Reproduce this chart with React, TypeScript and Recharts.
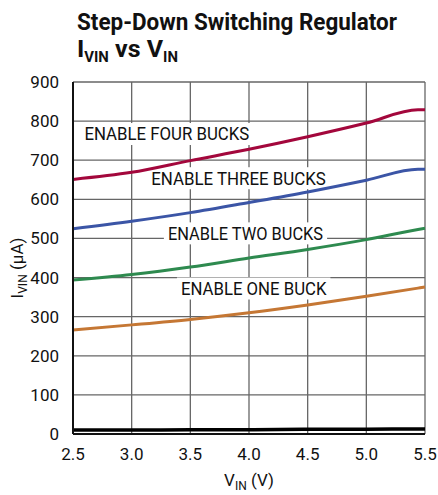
import React from "react";
import { LineChart, Line, XAxis, YAxis, CartesianGrid, ReferenceDot } from "recharts";

const vin = [2.5, 3.0, 3.5, 4.0, 4.5, 5.0, 5.44, 5.5];
const fourBucks = [651, 669, 699, 728, 760, 795, 829, 829];
const threeBucks = [525, 544, 566, 592, 619, 649, 677, 677];
const twoBucks = [394, 408, 427, 450, 472, 497, 523, 526];
const oneBuck = [266, 279, 293, 310, 330, 352, 373, 376];
const shutdown = [10, 10, 11, 11, 12, 12, 13, 13];

const xTicks = [2.5, 3.0, 3.5, 4.0, 4.5, 5.0, 5.5];
const yTicks = [0, 100, 200, 300, 400, 500, 600, 700, 800, 900];

const labelText = ["ENABLE FOUR BUCKS", "ENABLE THREE BUCKS", "ENABLE TWO BUCKS", "ENABLE ONE BUCK"];
const labelX = [3.3, 3.91, 3.97, 4.04];
const labelY = [767, 654, 513, 372];

const data = vin.map((v, i) => ({
  vin: v,
  four: fourBucks[i],
  three: threeBucks[i],
  two: twoBucks[i],
  one: oneBuck[i],
  off: shutdown[i],
}));

const FONT = "Roboto, 'Liberation Sans', sans-serif";

const makeLabel = (text: string) => (props: any) => {
  const { cx, cy } = props;
  const tw = text.length * 9.7;
  const w = tw + 8;
  return (
    <g>
      <rect x={cx - w / 2} y={cy - 11} width={w} height={22} fill="#fff" />
      <text
        x={cx - tw / 2}
        y={cy}
        dy="0.36em"
        textLength={tw}
        lengthAdjust="spacingAndGlyphs"
        fontFamily={FONT}
        fontSize={17.5}
        fill="#111"
      >
        {text}
      </text>
    </g>
  );
};

const XLabel = (props: any) => {
  const vb = props.viewBox || {};
  const cx = vb.x + vb.width / 2;
  return (
    <text x={cx} y={vb.y + 52} textAnchor="middle" fontFamily={FONT} fontSize={17} fill="#111">
      <tspan>V</tspan>
      <tspan fontSize={12} dy={4}>IN</tspan>
      <tspan dy={-4}> (V)</tspan>
    </text>
  );
};

const YLabel = (props: any) => {
  const vb = props.viewBox || {};
  const cx = 23;
  const cy = vb.y + vb.height / 2 + 10;
  return (
    <text x={cx} y={cy} textAnchor="middle" fontFamily={FONT} fontSize={17} fill="#111" transform={`rotate(-90 ${cx} ${cy})`}>
      <tspan>I</tspan>
      <tspan fontSize={12} dy={4}>VIN</tspan>
      <tspan dy={-4}> (µA)</tspan>
    </text>
  );
};

export default function App() {
  return (
    <div style={{ position: "absolute", left: 0, top: 0, width: 438, height: 495, background: "#fff" }}>
      <LineChart
        width={438}
        height={495}
        data={data}
        margin={{ top: 82, right: 13, bottom: 0, left: 13 }}
        style={{ position: "absolute", left: 0, top: 0 }}
      >
        <CartesianGrid stroke="#666" strokeWidth={1.3} horizontalValues={yTicks} verticalValues={xTicks} />
        <XAxis
          dataKey="vin"
          type="number"
          domain={[2.5, 5.5]}
          ticks={xTicks}
          tickFormatter={(v: number) => v.toFixed(1)}
          height={61}
          tickSize={0}
          tickMargin={14}
          axisLine={{ stroke: "#111", strokeWidth: 2 }}
          tick={{ fontFamily: FONT, fontSize: 17, fill: "#111" }}
          label={<XLabel />}
          interval={0}
        />
        <XAxis xAxisId="top" orientation="top" dataKey="vin" type="number" domain={[2.5, 5.5]} ticks={xTicks} height={0} tick={false} tickLine={false} axisLine={{ stroke: "#222", strokeWidth: 1.5 }} />
        <YAxis
          type="number"
          domain={[0, 900]}
          ticks={yTicks}
          width={60}
          tickSize={0}
          tickMargin={14}
          axisLine={{ stroke: "#111", strokeWidth: 2 }}
          tick={{ fontFamily: FONT, fontSize: 17, fill: "#111" }}
          label={<YLabel />}
          interval={0}
        />
        <YAxis yAxisId="right" orientation="right" domain={[0, 900]} width={0} tick={false} tickLine={false} axisLine={{ stroke: "#222", strokeWidth: 2 }} />
        {labelText.map((t, i) => (
          <ReferenceDot
            key={t}
            x={labelX[i]}
            y={labelY[i]}
            r={0}
            shape={makeLabel(t)}
            ifOverflow="visible"
            {...({ zIndex: 50 } as any)}
          />
        ))}
        <Line type="monotone" dataKey="four" stroke="#a3073c" strokeWidth={3} dot={false} isAnimationActive={false} />
        <Line type="monotone" dataKey="three" stroke="#3b55a6" strokeWidth={3} dot={false} isAnimationActive={false} />
        <Line type="monotone" dataKey="two" stroke="#2e8a4f" strokeWidth={3} dot={false} isAnimationActive={false} />
        <Line type="monotone" dataKey="one" stroke="#c57734" strokeWidth={3} dot={false} isAnimationActive={false} />
        <Line type="monotone" dataKey="off" stroke="#000" strokeWidth={3.5} dot={false} isAnimationActive={false} />
      </LineChart>
      <svg width={438} height={70} style={{ position: "absolute", left: 0, top: 0, pointerEvents: "none" }}>
        <text
          x={77}
          y={30}
          textLength={320}
          lengthAdjust="spacingAndGlyphs"
          fontFamily={FONT}
          fontWeight="bold"
          fontSize={23.5}
          fill="#111"
        >
          Step-Down Switching Regulator
        </text>
        <text
          x={77}
          y={57}
          textLength={101}
          lengthAdjust="spacingAndGlyphs"
          fontFamily={FONT}
          fontWeight="bold"
          fontSize={23.5}
          fill="#111"
        >
          <tspan>I</tspan>
          <tspan fontSize={14} dy={5}>VIN</tspan>
          <tspan dy={-5}> vs V</tspan>
          <tspan fontSize={14} dy={5}>IN</tspan>
        </text>
      </svg>
    </div>
  );
}
